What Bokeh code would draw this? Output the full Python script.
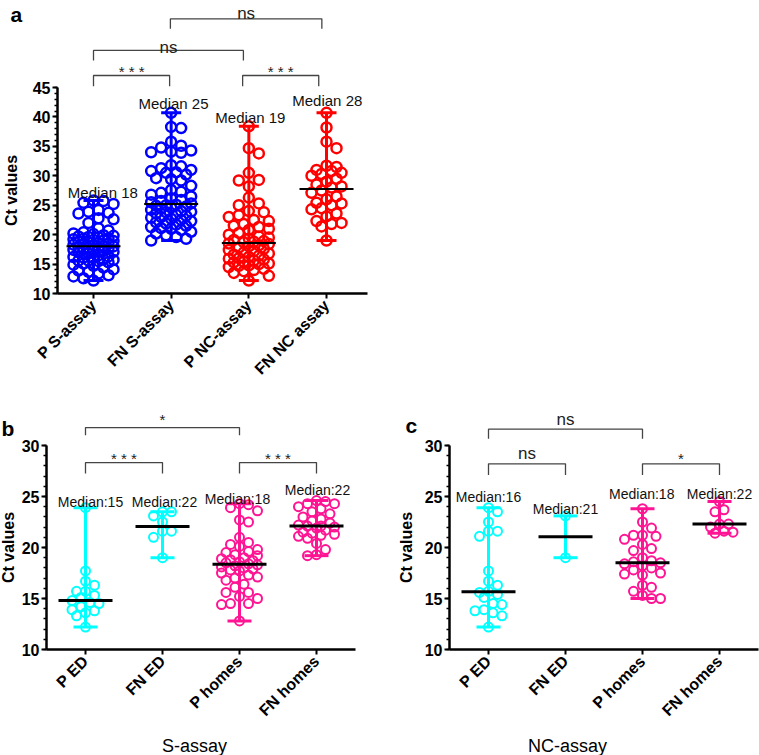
import math
import statistics
from bokeh.plotting import figure
from bokeh.layouts import column, row
from bokeh.models import FixedTicker, SingleIntervalTicker
from bokeh.core.properties import value
from bokeh.embed import file_html
from bokeh.resources import INLINE

FONT = "Liberation Sans"

# ---------------- data: panel a ----------------
a_categories = ["P S-assay", "FN S-assay", "P NC-assay", "FN NC assay"]
a_p_s_assay = [25.8, 25.7, 25.4, 25.2, 24.2, 23.9, 23.7, 23.6, 22.8, 22.6, 22.0, 21.1, 20.7, 20.4, 20.2, 20.1,
               19.9, 19.8, 19.7, 19.6, 19.5, 19.4, 19.3, 19.2, 19.1, 19.0, 18.9, 18.8, 18.7, 18.6, 18.5, 18.4,
               18.3, 18.2, 18.1, 18.0, 17.9, 17.8, 17.7, 17.6, 17.5, 17.4, 17.3, 17.2, 17.1, 17.0, 16.8, 16.5,
               16.3, 16.2, 16.1, 16.0, 15.8, 15.7, 15.6, 15.6, 15.5, 15.3, 15.1, 14.9, 14.7, 14.4, 14.1, 13.9,
               13.7, 13.4, 13.1, 12.9, 12.6, 12.2]
a_fn_s_assay = [40.7, 38.3, 38.1, 35.8, 35.1, 34.8, 34.3, 34.1, 34.0, 33.9, 31.8, 31.6, 31.3, 31.0, 30.8, 30.6,
                30.5, 30.2, 29.6, 29.4, 29.2, 28.3, 27.6, 27.3, 27.1, 26.8, 26.5, 26.2, 25.9, 25.7, 25.5, 25.3,
                25.1, 25.0, 24.9, 24.8, 24.6, 24.4, 24.2, 24.0, 23.9, 23.8, 23.6, 23.4, 23.2, 23.0, 22.9, 22.7,
                22.5, 22.3, 22.1, 21.9, 21.7, 21.5, 21.3, 21.1, 21.0, 20.8, 20.5, 20.2, 19.9, 19.6, 19.3, 19.0]
a_p_nc_assay = [38.4, 34.7, 33.8, 30.5, 29.3, 29.2, 28.2, 26.3, 25.3, 25.0, 24.0, 23.8, 23.3, 23.0, 22.5, 22.3,
                21.8, 21.5, 21.3, 21.0, 20.8, 20.3, 20.0, 19.7, 19.5, 19.3, 19.1, 18.9, 18.8, 18.7,
                18.5, 18.4, 18.2, 18.0, 17.8, 17.6, 17.4, 17.2, 17.0, 16.8, 16.6, 16.4, 16.2, 16.0, 15.9, 15.8,
                15.6, 15.4, 15.3, 15.1, 15.0, 14.8, 14.7, 14.5, 14.2, 14.0, 13.8, 13.5, 13.0, 12.2]
a_fn_nc_assay = [40.7, 38.2, 35.8, 34.7, 31.7, 31.5, 31.0, 30.8, 30.5, 30.3, 30.0, 29.5, 29.0, 28.5, 28.2, 28.0,
                 27.5, 27.1, 26.5, 26.0, 25.4, 25.3, 25.0, 24.5, 24.3, 23.6, 23.1, 22.3, 22.0, 21.8, 21.4, 19.0]
a_median_labels = ["Median 18", "Median 25", "Median 19", "Median 28"]
a_colors = ["#0000FF", "#0000FF", "#FF0000", "#FF0000"]

# ---------------- data: panel b (S-assay) ----------------
bc_categories = ["P ED", "FN ED", "P homes", "FN homes"]
b_p_ed = [23.9, 17.7, 16.7, 16.3, 15.7, 15.7, 15.3, 15.1, 14.8, 14.6, 14.5, 14.2, 13.9, 13.8, 13.6, 13.3, 12.2]
b_fn_ed = [23.5, 23.5, 23.1, 22.5, 21.6, 21.6, 21.0, 19.0]
b_p_homes = [24.3, 24.2, 23.9, 23.6, 22.7, 22.5, 21.0, 20.5, 20.3, 20.1, 19.8, 19.6, 19.5, 19.3, 19.2, 19.0,
             18.9, 18.8, 18.7, 18.6, 18.5, 18.4, 18.3, 18.2, 18.1, 18.0, 17.9, 17.8, 17.7, 17.5, 17.3, 17.1,
             17.0, 16.8, 16.4, 16.1, 15.6, 15.6, 15.2, 15.0, 14.5, 14.5, 14.4, 12.8]
b_fn_homes = [24.6, 24.5, 24.3, 24.3, 24.0, 23.8, 23.5, 23.3, 23.0, 22.8, 22.6, 22.4, 22.2, 22.1, 22.1, 22.0,
              21.9, 21.7, 21.5, 21.4, 21.3, 21.2, 21.1, 20.9, 20.4, 19.8, 19.3, 19.2]
b_median_labels = ["Median:15", "Median:22", "Median:18", "Median:22"]

# ---------------- data: panel c (NC-assay) ----------------
c_p_ed = [23.9, 23.5, 22.5, 21.6, 21.6, 21.1, 17.7, 16.7, 16.3, 15.7, 15.6, 15.4, 15.1, 14.5, 14.4, 13.9, 13.8,
          13.6, 13.3, 12.2]
c_fn_ed = [23.1, 19.0]
c_p_homes = [23.8, 22.5, 21.9, 21.2, 21.2, 21.1, 20.8, 20.3, 19.9, 19.7, 19.0, 18.7, 18.6, 18.5, 18.4, 18.2,
             18.0, 17.8, 17.5, 17.4, 17.3, 16.3, 16.1, 15.7, 15.3, 15.0, 15.0]
c_fn_homes = [24.5, 23.7, 23.5, 22.3, 22.3, 22.0, 21.6, 21.5, 21.4]
c_median_labels = ["Median:16", "Median:21", "Median:18", "Median:22"]
bc_colors = ["#00FFFF", "#00FFFF", "#FF1493", "#FF1493"]


def swarm(vals, ppu_x, ppu_y, d, maxw):
    """Deterministic beeswarm offsets (in x data units)."""
    placed = []
    offs = []
    step = d / 2.0
    ordered = sorted(vals, reverse=True)
    for v in ordered:
        y = v * ppu_y
        cands = [0.0]
        k = 1
        while k * step <= maxw + 1e-9:
            cands += [k * step, -k * step]
            k += 1
        chosen = None
        best_c, best_s = 0.0, -1.0
        for c in cands:
            md = min((math.hypot(c - px, y - py) for px, py in placed), default=1e9)
            if md >= d * 0.95:
                chosen = c
                break
            if md > best_s:
                best_s, best_c = md, c
        if chosen is None:
            chosen = best_c
        placed.append((chosen, y))
        offs.append(chosen / ppu_x)
    return ordered, offs


class Frame:
    """Maps panel pixel positions (page coordinates) to data coordinates."""
    def __init__(self, left, top, cat0_px, ppu_x, ref_val, ref_py, ppu_y):
        self.left, self.top = left, top
        self.cat0_px, self.ppu_x = cat0_px, ppu_x
        self.ref_val, self.ref_py, self.ppu_y = ref_val, ref_py, ppu_y

    def x(self, px):
        return (px - self.cat0_px) / self.ppu_x

    def y(self, py):
        return self.ref_val - (py - self.ref_py) / self.ppu_y


def make_panel(fr, width, height, ax_left_px, ax_right_px, ybounds, cats, groups, colors,
               med_labels, med_pos, med_font, brackets, marker_size, marker_lw, maxws, cap_px, med_px,
               med_lw, bar_lw, ylabel_standoff):
    xr = (fr.x(fr.left), fr.x(fr.left + width))
    yr = (fr.y(fr.top + height), fr.y(fr.top))
    p = figure(width=width, height=height, x_range=xr, y_range=yr, output_backend="svg",
               toolbar_location=None, min_border_left=0, min_border_right=0,
               min_border_top=0, min_border_bottom=0)
    p.outline_line_color = None
    p.xgrid.visible = False
    p.ygrid.visible = False
    p.background_fill_color = "white"
    ppu_x, ppu_y = fr.ppu_x, fr.ppu_y

    for i, (vals, col) in enumerate(zip(groups, colors)):
        vs, offs = swarm(vals, ppu_x, ppu_y, marker_size, maxws[i])
        xs = [i + o for o in offs]
        lo, hi = min(vals), max(vals)
        med = statistics.median(vals)
        p.segment(x0=[i], y0=[lo], x1=[i], y1=[hi], line_color=col, line_width=bar_lw)
        cw = cap_px / ppu_x
        p.segment(x0=[i - cw, i - cw], y0=[lo, hi], x1=[i + cw, i + cw], y1=[lo, hi],
                  line_color=col, line_width=bar_lw)
        p.scatter(xs, vs, marker="circle", size=marker_size, fill_color=None,
                  line_color=col, line_width=marker_lw)
        mw = med_px / ppu_x
        p.segment(x0=[i - mw], y0=[med], x1=[i + mw], y1=[med], line_color="black", line_width=med_lw)

    p.text(x=[i + dx for i, (dx, _) in enumerate(med_pos)], y=[yy for _, yy in med_pos], text=med_labels,
           text_font=value(FONT), text_font_size=med_font, text_align="center",
           text_baseline="alphabetic", text_color="#111111")

    for (x0, x1, ybar, ydrop, lab, ly, lfs) in brackets:
        p.line([x0, x0, x1, x1], [ydrop, ybar, ybar, ydrop], line_color="#444444", line_width=1.3)
        p.text(x=[(x0 + x1) / 2], y=[ly], text=[lab], text_font=value(FONT), text_font_size=lfs,
               text_align="center", text_baseline="alphabetic", text_color="#222222")

    xa = p.xaxis[0]
    xa.fixed_location = ybounds[0]
    xa.bounds = (fr.x(ax_left_px), fr.x(ax_right_px))
    xa.ticker = FixedTicker(ticks=[0, 1, 2, 3])
    xa.major_label_overrides = {i: c for i, c in enumerate(cats)}
    xa.major_label_orientation = math.pi / 4
    xa.major_label_text_font = FONT
    xa.major_label_text_font_style = "bold"
    xa.major_label_text_font_size = "16px"
    xa.major_label_text_color = "black"
    xa.major_tick_in = 0
    xa.major_tick_out = 5
    xa.minor_tick_line_color = None
    xa.axis_line_width = 2.5
    xa.major_tick_line_width = 2
    xa.major_label_standoff = 4

    ya = p.yaxis[0]
    ya.fixed_location = fr.x(ax_left_px)
    ya.bounds = ybounds
    ya.ticker = SingleIntervalTicker(interval=5, num_minor_ticks=5)
    ya.major_label_text_font = FONT
    ya.major_label_text_font_style = "bold"
    ya.major_label_text_font_size = "16px"
    ya.major_label_text_color = "black"
    ya.major_tick_in = 0
    ya.major_tick_out = 5
    ya.minor_tick_in = 0
    ya.minor_tick_out = 3
    ya.axis_line_width = 2.5
    ya.major_tick_line_width = 2
    ya.minor_tick_line_width = 1.5
    ya.major_label_standoff = 2
    ya.axis_label = "Ct values"
    ya.axis_label_text_font = FONT
    ya.axis_label_text_font_style = "bold"
    ya.axis_label_text_font_size = "16px"
    ya.axis_label_text_color = "black"
    ya.axis_label_standoff = ylabel_standoff
    return p


def page_text(p, fr, txt, px, py, size, bold=False, align="left"):
    p.text(x=[fr.x(px)], y=[fr.y(py)], text=[txt], text_font=value(FONT), text_font_size=size,
           text_font_style="bold" if bold else "normal", text_align=align,
           text_baseline="alphabetic", text_color="black")


# ---------------- panel a ----------------
fa = Frame(left=0, top=0, cat0_px=93, ppu_x=77.67, ref_val=45, ref_py=87, ppu_y=5.886)
pa = make_panel(fa, 400, 385, 57, 367, (10, 45), a_categories,
                [a_p_s_assay, a_fn_s_assay, a_p_nc_assay, a_fn_nc_assay], a_colors, a_median_labels,
                [(0.12, 27.21), (0.03, 42.33), (0.02, 39.95), (0.01, 42.79)], "15px",
                [(0, 0.98, 47.04, 45.2, "* * *", 47.77, "15px"),
                 (1.92, 2.9, 47.04, 45.2, "* * *", 47.77, "15px"),
                 (0, 1.93, 51.3, 49.6, "ns", 51.85, "17px"),
                 (0.99, 2.94, 56.67, 54.97, "ns", 57.52, "17px")],
                10, 2.5, [23, 21, 20, 18], 10, 27, 2, 3, 10)
page_text(pa, fa, "a", 10, 14, "21px", bold=True)

# ---------------- panel b ----------------
fb = Frame(left=0, top=385, cat0_px=85, ppu_x=77.0, ref_val=30, ref_py=445, ppu_y=10.2)
pb = make_panel(fb, 380, 370, 46, 355, (10, 30), bc_categories,
                [b_p_ed, b_fn_ed, b_p_homes, b_fn_homes], bc_colors, b_median_labels,
                [(0.065, 24.44), (0.026, 24.44), (-0.026, 24.77), (0.013, 25.59)], "14px",
                [(0, 1.0, 28.33, 27.25, "* * *", 28.7, "15px"),
                 (2, 3.0, 28.33, 27.25, "* * *", 28.7, "15px"),
                 (0, 2.0, 31.76, 31.0, "*", 32.58, "15px")],
                9, 2, [16, 9, 21, 18], 12, 27, 3, 3, 2)
page_text(pb, fb, "b", 1, 428, "21px", bold=True)
page_text(pb, fb, "S-assay", 194, 745, "18px", align="center")

# ---------------- panel c ----------------
fc = Frame(left=380, top=385, cat0_px=488, ppu_x=77.0, ref_val=30, ref_py=445, ppu_y=10.2)
pc = make_panel(fc, 379, 370, 449, 758, (10, 30), bc_categories,
                [c_p_ed, c_fn_ed, c_p_homes, c_fn_homes], bc_colors, c_median_labels,
                [(0.0, 24.93), (0.0, 23.73), (-0.01, 25.26), (0.0, 25.26)], "14px",
                [(0, 1.0, 28.2, 27.1, "ns", 29.25, "17px"),
                 (2, 3.0, 28.2, 27.1, "*", 28.72, "15px"),
                 (0, 2.0, 31.6, 30.65, "ns", 32.52, "17px")],
                9, 2, [17, 0, 18, 14], 12, 27, 3, 3, 7)
page_text(pc, fc, "c", 405, 425, "21px", bold=True)
page_text(pc, fc, "NC-assay", 567, 745, "18px", align="center")

layout = column(pa, row(pb, pc))
open("out.html", "w").write(file_html(layout, INLINE))
